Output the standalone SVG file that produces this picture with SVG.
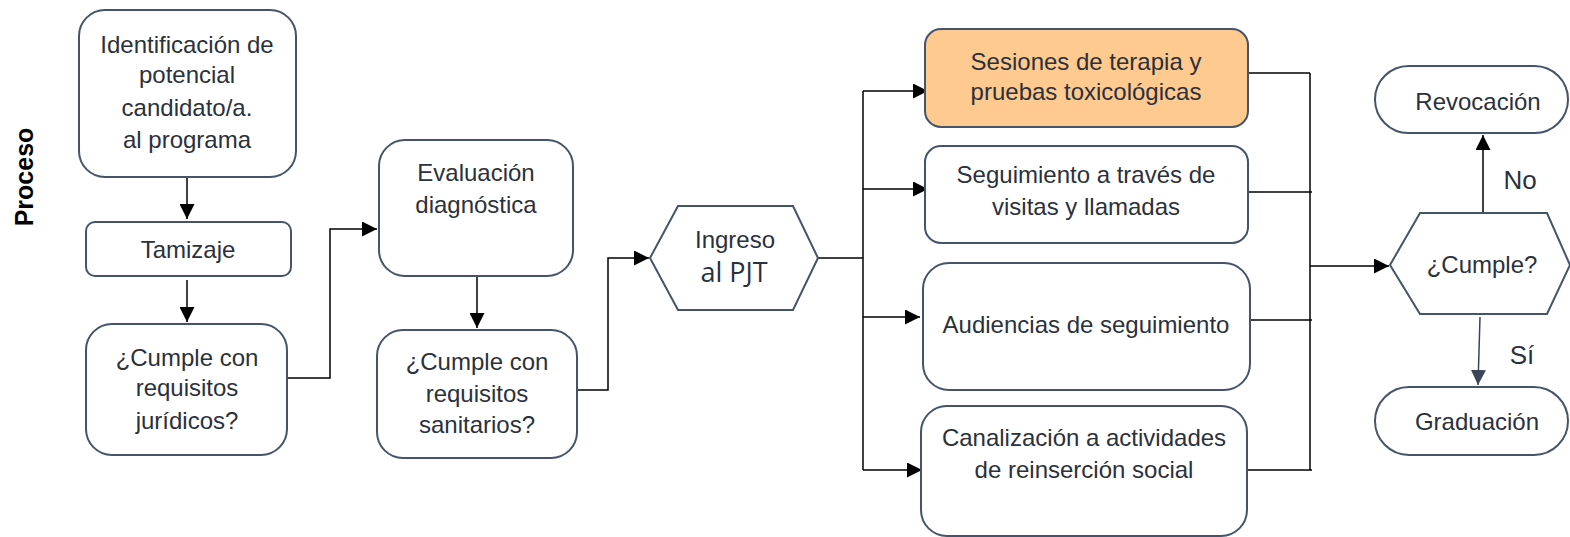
<svg xmlns="http://www.w3.org/2000/svg" width="1570" height="537" viewBox="0 0 1570 537">
<defs>
<style>
.n{fill:#fff;stroke:#44546a;stroke-width:2}
.o{fill:#ffca8f;stroke:#44546a;stroke-width:2}
.t{font-family:"Liberation Sans",Arial,sans-serif;font-size:24px;fill:#2b313b;text-anchor:middle}
.p{font-family:"Open Sans","DejaVu Sans",sans-serif;font-size:27px;fill:#2b313b;text-anchor:middle}
.c{fill:none;stroke:#000;stroke-width:1.5}
.l{font-family:"Liberation Sans",Arial,sans-serif;font-size:26px;fill:#2b313b;text-anchor:middle}
</style>
<marker id="a" viewBox="0 0 10 10" refX="10" refY="5" markerWidth="15" markerHeight="15" markerUnits="userSpaceOnUse" orient="auto"><path d="M0,0L10,5L0,10z" fill="#000"/></marker>
<marker id="b" viewBox="0 0 10 10" refX="10" refY="5" markerWidth="15" markerHeight="15" markerUnits="userSpaceOnUse" orient="auto"><path d="M0,0L10,5L0,10z" fill="#3a4558"/></marker>
</defs>
<text x="24" y="177" transform="rotate(-90 24 177)" font-family="Liberation Sans,Arial,sans-serif" font-size="25" font-weight="bold" fill="#000" text-anchor="middle" dominant-baseline="central">Proceso</text>
<g id="connectors">
<line class="c" x1="187" y1="177" x2="187" y2="219" marker-end="url(#a)"/>
<line class="c" x1="187" y1="280" x2="187" y2="322" marker-end="url(#a)"/>
<polyline class="c" points="287,378 330,378 330,229 377,229" marker-end="url(#a)"/>
<line class="c" x1="477" y1="276" x2="477" y2="328" marker-end="url(#a)"/>
<polyline class="c" points="577,390 608,390 608,258 649,258" marker-end="url(#a)"/>
<line class="c" x1="818" y1="258" x2="863" y2="258"/>
<line class="c" x1="863" y1="91" x2="863" y2="470"/>
<line class="c" x1="863" y1="91" x2="928" y2="91" marker-end="url(#a)"/>
<line class="c" x1="863" y1="189" x2="928" y2="189" marker-end="url(#a)"/>
<line class="c" x1="863" y1="317" x2="920" y2="317" marker-end="url(#a)"/>
<line class="c" x1="863" y1="470" x2="922" y2="470" marker-end="url(#a)"/>
<line class="c" x1="1248" y1="73" x2="1310" y2="73"/>
<line class="c" x1="1248" y1="192" x2="1312" y2="192"/>
<line class="c" x1="1250" y1="320" x2="1312" y2="320"/>
<line class="c" x1="1247" y1="470" x2="1312" y2="470"/>
<line class="c" x1="1310" y1="73" x2="1310" y2="470"/>
<line class="c" x1="1310" y1="266" x2="1389" y2="266" marker-end="url(#a)"/>
<line class="c" x1="1483" y1="213" x2="1483" y2="135" marker-end="url(#a)"/>
<line x1="1480" y1="317" x2="1478" y2="385" stroke="#3a4558" stroke-width="1.5" marker-end="url(#b)"/>
<text class="l" x="1520" y="189">No</text>
<text class="l" x="1522" y="364">Sí</text>
</g>
<g id="n1"><rect class="n" x="79" y="10" width="217" height="167" rx="26"/>
<text class="t" x="187" y="53">Identificación de</text><text class="t" x="187" y="83">potencial</text><text class="t" x="187" y="116">candidato/a.</text><text class="t" x="187" y="148"> al programa</text></g>
<g id="n2"><rect class="n" x="86" y="222" width="205" height="54" rx="9"/>
<text class="t" x="188" y="258">Tamizaje</text></g>
<g id="n3"><rect class="n" x="86" y="324" width="201" height="131" rx="26"/>
<text class="t" x="187" y="366">¿Cumple con</text><text class="t" x="187" y="396">requisitos</text><text class="t" x="187" y="429">jurídicos?</text></g>
<g id="n4"><rect class="n" x="379" y="140" width="194" height="136" rx="26"/>
<text class="t" x="476" y="181">Evaluación</text><text class="t" x="476" y="213">diagnóstica</text></g>
<g id="n5"><rect class="n" x="377" y="330" width="200" height="128" rx="26"/>
<text class="t" x="477" y="370">¿Cumple con</text><text class="t" x="477" y="402">requisitos</text><text class="t" x="477" y="433">sanitarios?</text></g>
<g id="n6"><polygon class="n" points="650,258 678,206 793,206 818,258 793,310 678,310"/>
<text class="t" x="735" y="248">Ingreso</text><text class="p" x="734" y="282">al PJT</text></g>
<g id="n7"><rect class="o" x="925" y="29" width="323" height="98" rx="16"/>
<text class="t" x="1086" y="70">Sesiones de terapia y</text><text class="t" x="1086" y="100">pruebas toxicológicas</text></g>
<g id="n8"><rect class="n" x="925" y="146" width="323" height="97" rx="16"/>
<text class="t" x="1086" y="183">Seguimiento a través de</text><text class="t" x="1086" y="215">visitas y llamadas</text></g>
<g id="n9"><rect class="n" x="923" y="263" width="327" height="127" rx="26"/>
<text class="t" x="1086" y="333">Audiencias de seguimiento</text></g>
<g id="n10"><rect class="n" x="921" y="406" width="326" height="130" rx="26"/>
<text class="t" x="1084" y="446">Canalización a actividades</text><text class="t" x="1084" y="478">de reinserción social</text></g>
<g id="n11"><polygon class="n" points="1390,265 1420,213 1547,213 1570,265 1547,314 1420,314"/>
<text class="t" x="1482" y="273">¿Cumple?</text></g>
<g id="n12"><rect class="n" x="1375" y="66" width="193" height="67" rx="33.5"/>
<text class="t" x="1478" y="110">Revocación</text></g>
<g id="n13"><rect class="n" x="1375" y="387" width="193" height="68" rx="34"/>
<text class="t" x="1477" y="430">Graduación</text></g>
</svg>
